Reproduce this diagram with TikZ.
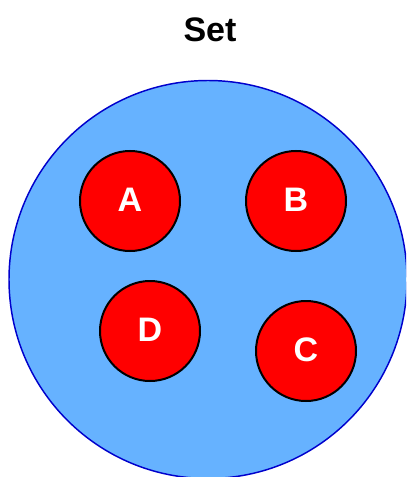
\documentclass[tikz,border=0pt]{standalone}
\usepackage{fontspec}
\setmainfont{Liberation Sans}
\definecolor{setblue}{RGB}{102,178,255}
\definecolor{setedge}{RGB}{0,0,204}
\definecolor{elred}{RGB}{255,0,0}
\begin{document}
\begin{tikzpicture}[x=0.75pt,y=-0.75pt,
  element/.style={circle,draw=black,line width=1.5pt,fill=elred,minimum size=75pt,inner sep=0pt,
    font=\fontsize{25.5}{30}\selectfont\bfseries,text=white},
  titletext/.style={font=\fontsize{25.5}{30}\selectfont\bfseries,text=black,anchor=base}]
\useasboundingbox (0,0) rectangle (406,477);
\clip (0,0) rectangle (406,477);
\node[circle,draw=setedge,line width=1.1pt,fill=setblue,minimum size=298.5pt,inner sep=0pt] (set) at (208,279.5) {};
\node[titletext] (title) at (210,42) {Set};
\node[element] (A) at (130,201) {\raisebox{2pt}{A}};
\node[element] (B) at (296,201) {\raisebox{2pt}{B}};
\node[element] (D) at (150,331) {\raisebox{2pt}{D}};
\node[element] (C) at (306,351) {\raisebox{2pt}{C}};
\end{tikzpicture}
\end{document}
